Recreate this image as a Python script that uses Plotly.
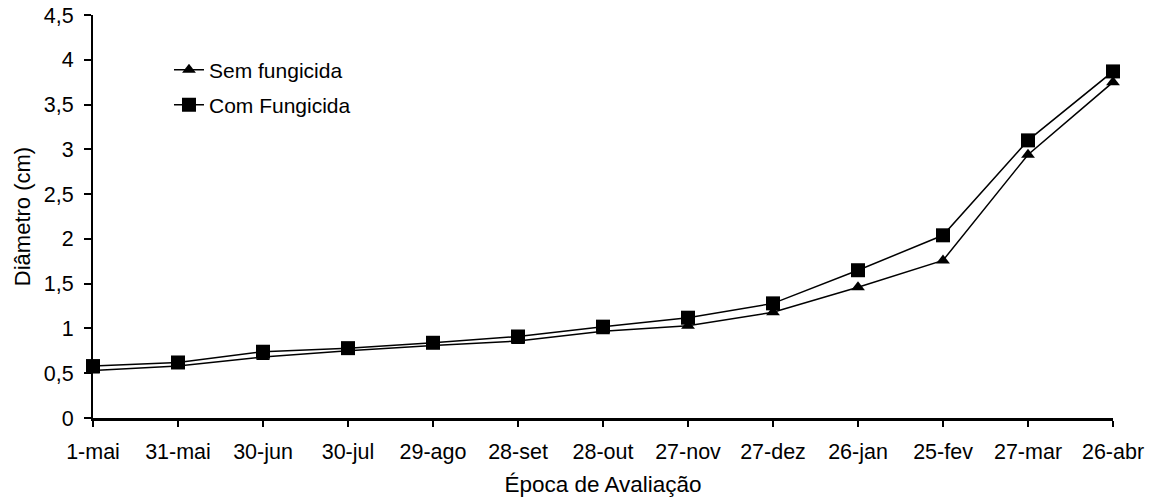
import plotly.graph_objects as go

categories = ["1-mai", "31-mai", "30-jun", "30-jul", "29-ago", "28-set", "28-out",
              "27-nov", "27-dez", "26-jan", "25-fev", "27-mar", "26-abr"]
sem_fungicida = [0.53, 0.58, 0.68, 0.75, 0.81, 0.86, 0.97, 1.03, 1.18, 1.46, 1.76, 2.94, 3.75]
com_fungicida = [0.58, 0.62, 0.74, 0.78, 0.84, 0.91, 1.02, 1.12, 1.28, 1.65, 2.04, 3.10, 3.87]

fig = go.Figure()
fig.add_trace(go.Scatter(
    x=categories, y=sem_fungicida, name="Sem fungicida", mode="lines+markers",
    line=dict(color="black", width=1.5),
    marker=dict(symbol="triangle-up", size=12, color="black"),
    cliponaxis=False, showlegend=True, legend="legend"))
fig.add_trace(go.Scatter(
    x=categories, y=com_fungicida, name="Com Fungicida", mode="lines+markers",
    line=dict(color="black", width=1.5),
    marker=dict(symbol="square", size=14, color="black"),
    cliponaxis=False, showlegend=True, legend="legend2"))

fig.update_layout(
    width=1151, height=501,
    margin=dict(l=93, r=38, t=15, b=83),
    paper_bgcolor="white", plot_bgcolor="white",
    font=dict(family="Liberation Sans, Arial, sans-serif", size=21, color="black"),
    separators=",.",
    showlegend=True,
    legend=dict(x=0.0745, y=0.8635, xanchor="left", yanchor="middle", visible=True,
                bgcolor="rgba(0,0,0,0)", font=dict(size=21)),
    legend2=dict(x=0.0745, y=0.7767, xanchor="left", yanchor="middle", visible=True,
                 bgcolor="rgba(0,0,0,0)", font=dict(size=21)),
    xaxis=dict(
        type="category", range=[0, 12], automargin=False,
        showline=True, linecolor="black", linewidth=3,
        ticks="outside", ticklen=6, tickwidth=2, tickcolor="black",
        ticklabelstandoff=6,
        showgrid=False, zeroline=False,
        title=dict(text="Época de Avaliação", font=dict(size=22.5), standoff=14),
        tickfont=dict(size=21.5)),
    yaxis=dict(
        range=[0, 4.5], dtick=0.5, tick0=0, automargin=False,
        showline=True, linecolor="black", linewidth=2,
        ticks="outside", ticklen=7, tickwidth=2, tickcolor="black",
        ticklabelstandoff=6,
        showgrid=False, zeroline=False,
        title=dict(text="Diâmetro (cm)", font=dict(size=22), standoff=7),
        tickfont=dict(size=21.5)),
)

fig.write_html(
    "out.html",
    config={"displayModeBar": False},
    post_script="document.body.style.margin='0';document.body.style.overflow='hidden';",
)
